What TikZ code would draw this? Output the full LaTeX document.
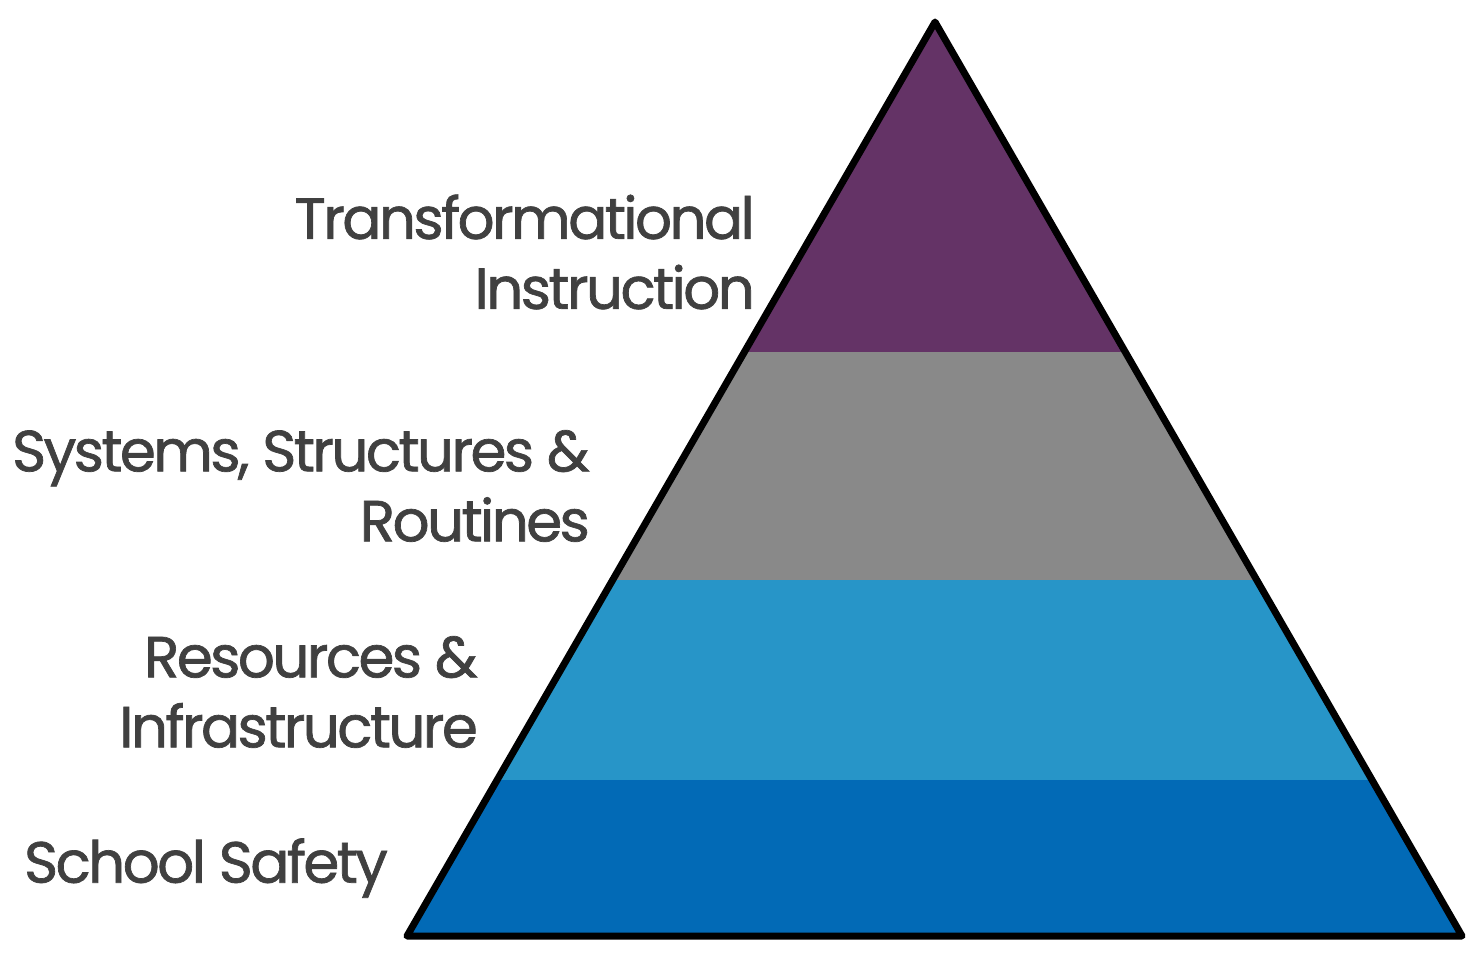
\documentclass[tikz,border=0pt]{standalone}
\usepackage{fontspec}
\setmainfont[LetterSpace=-4.5,FakeBold=1.2]{Poppins}
\definecolor{cpur}{HTML}{643366}
\definecolor{cgray}{HTML}{898989}
\definecolor{clb}{HTML}{2795C8}
\definecolor{cdb}{HTML}{026AB6}
\definecolor{ctext}{HTML}{404040}
\begin{document}
\begin{tikzpicture}[x=1pt,y=-1pt,
  lbl/.style={anchor=east,align=right,text=ctext,font=\fontsize{58}{70}\selectfont,inner sep=0pt}]
\useasboundingbox (0,0) rectangle (1480,960);
\coordinate (A) at (935,22);
\coordinate (B) at (407,936);
\coordinate (C) at (1462,936);
\begin{scope}
\clip (A) -- (B) -- (C) -- cycle;
\fill[cpur] (400,15) rectangle (1470,352);
\fill[cgray] (400,352) rectangle (1470,580);
\fill[clb] (400,580) rectangle (1470,780);
\fill[cdb] (400,780) rectangle (1470,940);
\end{scope}
\draw[line width=7pt,line join=round] (A) -- (B) -- (C) -- cycle;
\node[lbl] (t1) at (755,252) {Transformational\\Instruction};
\node[lbl] (t2) at (590,486) {Systems, Structures \&\\Routines};
\node[lbl] (t3) at (478,692) {Resources \&\\Infrastructure};
\node[lbl] (t4) at (388,868) {School Safety};
\end{tikzpicture}
\end{document}
